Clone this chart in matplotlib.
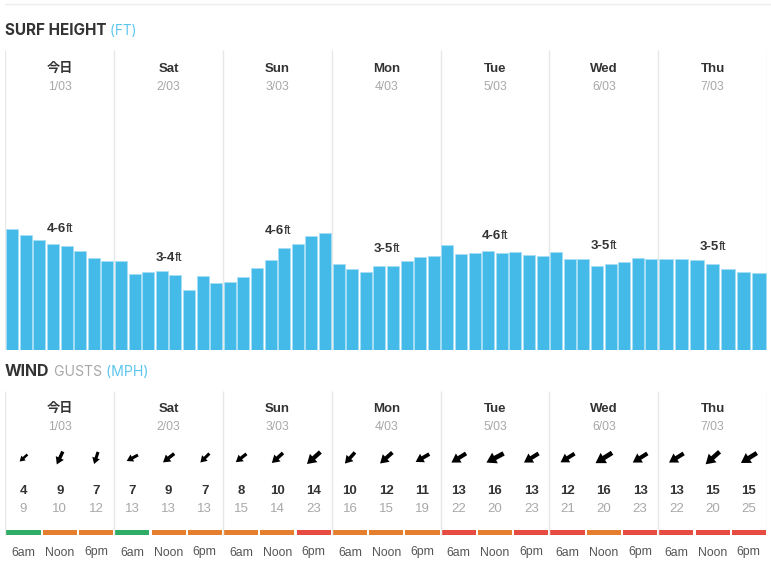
import numpy as np
import matplotlib
matplotlib.use("Agg")
import matplotlib.pyplot as plt
from matplotlib.patches import FancyArrow

#########################################################################################
### Data
#########################################################################################
day_names = ["今日", "Sat", "Sun", "Mon", "Tue", "Wed", "Thu"]
day_dates = ["1/03", "2/03", "3/03", "4/03", "5/03", "6/03", "7/03"]
surf_ranges = ["4-6", "3-4", "4-6", "3-5", "4-6", "3-5", "3-5"]

surf_fri = [6.05, 5.75, 5.50, 5.30, 5.20, 4.97, 4.62, 4.45]
surf_sat = [4.45, 3.78, 3.90, 3.95, 3.75, 2.98, 3.72, 3.33]
surf_sun = [3.40, 3.65, 4.08, 4.52, 5.08, 5.30, 5.70, 5.83]
surf_mon = [4.32, 4.05, 3.90, 4.18, 4.20, 4.47, 4.65, 4.68]
surf_tue = [5.23, 4.82, 4.85, 4.95, 4.85, 4.90, 4.77, 4.72]
surf_wed = [4.88, 4.53, 4.57, 4.18, 4.30, 4.42, 4.58, 4.55]
surf_thu = [4.57, 4.57, 4.50, 4.30, 4.03, 3.90, 3.85]
surf_days = [surf_fri, surf_sat, surf_sun, surf_mon, surf_tue, surf_wed, surf_thu]

wind_times = ["6am", "Noon", "6pm"]
wind_speed = [4, 9, 7, 7, 9, 7, 8, 10, 14, 10, 12, 11, 13, 16, 13, 12, 16, 13, 13, 15, 15]
wind_gust = [9, 10, 12, 13, 13, 13, 15, 14, 23, 16, 15, 19, 22, 20, 23, 21, 20, 23, 22, 20, 25]
# direction the arrow points, degrees counter clockwise from east
wind_angle = [222, 245, 252, 208, 218, 225, 218, 222, 222, 228, 222, 210,
              212, 208, 212, 212, 212, 212, 212, 222, 212]
wind_rating = ["g", "o", "o", "g", "o", "o", "o", "o", "r", "o", "o", "o",
               "r", "o", "r", "r", "o", "r", "r", "r", "r"]

#########################################################################################
### Constants
#########################################################################################
WIDTH = 771
HEIGHT = 571
X_LEFT = 5.4
X_RIGHT = 767.0
BAR_COLOR = "#44BAE8"
BAR_EDGE = "#A6DFF5"
GRID_COLOR = "#E8E8E8"
DARK = "#333333"
GREY = "#A8A8A8"
BLUE_TEXT = "#5CC6EE"
RATING_COLORS = {"g": "#2FAD66", "o": "#E67E30", "r": "#E74C43"}
TITLE_FONT = "Inter"

plt.rcParams["font.family"] = ["Liberation Sans", "Noto Sans CJK JP", "DejaVu Sans"]

fig = plt.figure(figsize=(WIDTH / 100, HEIGHT / 100), dpi=100)
fig.add_artist(plt.Line2D([5 / WIDTH, 1], [1 - 3.5 / HEIGHT] * 2, color="#EDEDED", lw=1))


def make_axes(top, bottom):
    # day units on x, the figure is laid out in pixels from the top
    ax = fig.add_axes([X_LEFT / WIDTH, 1 - bottom / HEIGHT,
                       (X_RIGHT - X_LEFT) / WIDTH, (bottom - top) / HEIGHT])
    ax.set_xlim(0, 7)
    ax.axis("off")
    return ax


def header_row(ax, y_name, y_date):
    for d in range(7):
        ax.text(d + 0.5, y_name, day_names[d], ha="center", va="center",
                fontsize=9.5, fontweight="bold", color=DARK)
        ax.text(d + 0.5, y_date, day_dates[d], ha="center", va="center",
                fontsize=8.7, color=GREY)


#########################################################################################
### Titles
#########################################################################################
ax_title = fig.add_axes([0, 0, 1, 1])
ax_title.set_xlim(0, WIDTH)
ax_title.set_ylim(HEIGHT, 0)
ax_title.axis("off")


def title_parts(y, parts):
    t = ax_title.text(5, y, parts[0][0], color=parts[0][1], fontweight=parts[0][2],
                      fontsize=parts[0][3], family=TITLE_FONT, va="baseline")
    for text, color, weight, size in parts[1:]:
        t = ax_title.annotate(" " + text, xy=(1, 0), xycoords=t, color=color, fontweight=weight,
                              fontsize=size, family=TITLE_FONT, va="bottom", ha="left")


title_parts(35, [("SURF HEIGHT", DARK, "bold", 11), ("(FT)", BLUE_TEXT, "normal", 9.8)])
title_parts(376, [("WIND", DARK, "bold", 11.5), ("GUSTS", GREY, "normal", 10.2),
                  ("(MPH)", BLUE_TEXT, "normal", 10.2)])

#########################################################################################
### Surf bars
#########################################################################################
ax_surf = make_axes(50, 350)
ax_surf.set_ylim(0, 15)
ax_surf.vlines(range(8), 0, 15, color=GRID_COLOR, lw=1)

label_heights = [6.05, 4.6, 5.95, 5.05, 5.7, 5.2, 5.15]

for d, values in enumerate(surf_days):
    n = len(values)
    xs = d + (np.arange(n) + 0.5) / n
    ax_surf.bar(xs, values, width=0.87 / n, color=BAR_COLOR, edgecolor=BAR_EDGE, lw=0.6, zorder=3)

    bold = ax_surf.annotate(surf_ranges[d], xy=(d + 0.5, label_heights[d]), xytext=(4.5, 0),
                            textcoords="offset points", ha="right", va="center",
                            fontsize=9.5, fontweight="bold", color=DARK)
    ax_surf.annotate("ft", xy=(1, 0), xycoords=bold, ha="left", va="bottom",
                     fontsize=9.5, color=DARK)

ax_top = make_axes(50, 100)
ax_top.set_ylim(100, 50)
header_row(ax_top, 69, 86.5)

#########################################################################################
### Wind
#########################################################################################
ax_wind = make_axes(391, 560)
ax_wind.set_ylim(560, 391)
ax_wind.vlines(range(8), 391, 535, color=GRID_COLOR, lw=1)
header_row(ax_wind, 409, 427)

x_slots = (np.arange(21) + 0.5) / 3
ax_wind.bar(x_slots, [5] * 21, bottom=530, width=0.94 / 3,
            color=[RATING_COLORS[r] for r in wind_rating])

for i in range(21):
    x = x_slots[i]
    ax_wind.text(x, 490.7, str(wind_speed[i]), ha="center", va="center",
                 fontsize=9.5, fontweight="bold", color=DARK)
    ax_wind.text(x, 509, str(wind_gust[i]), ha="center", va="center", fontsize=9.5, color=GREY)
    ax_wind.text(x, 552.5, wind_times[i % 3], ha="center", va="center", fontsize=8.8, color="#555555")

    # arrow grows with the wind speed, drawn in the pixel axes
    length = 7.5 + 0.75 * wind_speed[i]
    ux = np.cos(np.radians(wind_angle[i]))
    uy = -np.sin(np.radians(wind_angle[i]))
    x_px = X_LEFT + x * (X_RIGHT - X_LEFT) / 7
    ax_title.add_patch(FancyArrow(x_px - ux * length / 2, 458 - uy * length / 2,
                                  ux * length, uy * length, length_includes_head=True,
                                  width=length * 0.24, head_width=length * 0.62,
                                  head_length=length * 0.5, color="black", lw=0))

plt.savefig("out.png", dpi=100)
